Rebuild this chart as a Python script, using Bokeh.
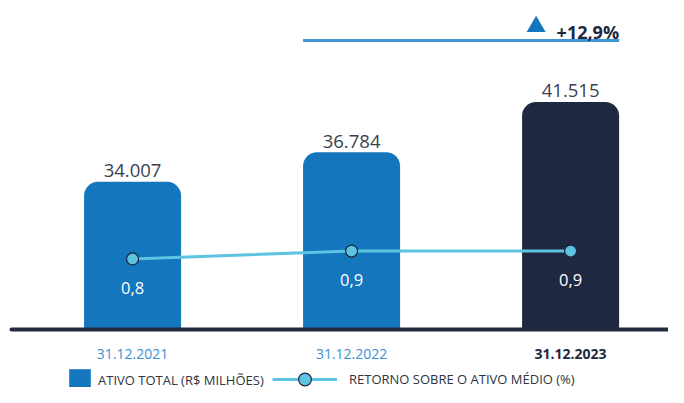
from bokeh.plotting import figure
from bokeh.models import Range1d, Legend, LegendItem, ColumnDataSource
from bokeh.core.properties import value
from bokeh.embed import file_html
from bokeh.resources import INLINE

# ---- data ----
dates = ["31.12.2021", "31.12.2022", "31.12.2023"]
ativo_total = [34007, 36784, 41515]          # R$ milhões
rsa = [0.8, 0.9, 0.9]                         # %
bar_colors = ["#1476bd", "#1476bd", "#1e2840"]
date_colors = ["#3a8fd2", "#3a8fd2", "#1e2840"]
date_styles = ["normal", "normal", "bold"]

# ---- layout constants ----
W, H = 668, 387
X_START, X_END = -0.603, 2.447
Y_START, Y_END = 14684, 51039
RSA_START, RSA_END = -0.828, 4.073
BAR_BASE = 20130
BAR_W = 0.443
ANNOT_Y = 47272
PX_PER_X = W / (X_END - X_START)
PX_PER_Y = H / (Y_END - Y_START)
FONT = "Open Sans"

xs = list(range(len(dates)))
val_labels = [f"{v:,}".replace(",", ".") for v in ativo_total]
rsa_labels = [f"{v:.1f}".replace(".", ",") for v in rsa]
growth = (ativo_total[-1] / ativo_total[-2] - 1) * 100
growth_label = "+" + f"{growth:.1f}".replace(".", ",") + "%"

src = ColumnDataSource(dict(x=xs, top=ativo_total, bottom=[BAR_BASE] * len(xs),
                            color=bar_colors, vlab=val_labels, rsa=rsa, rlab=rsa_labels,
                            date=dates, dcol=date_colors, dsty=date_styles,
                            base=[BAR_BASE] * len(xs)))

p = figure(width=W, height=H, output_backend="svg", toolbar_location=None,
           x_range=Range1d(X_START, X_END), y_range=Range1d(Y_START, Y_END),
           x_axis_location=None, y_axis_location=None, min_border=0)
p.extra_y_ranges = {"rsa": Range1d(RSA_START, RSA_END)}
p.grid.visible = False
p.outline_line_color = None
p.background_fill_color = "white"
p.border_fill_color = "white"

bars = p.vbar(x="x", top="top", bottom="bottom", width=BAR_W, source=src,
              fill_color="color", line_color=None, border_radius=(14, 14, 0, 0))

# value labels above bars
p.text(x="x", y="top", text="vlab", source=src, text_align="center",
       text_baseline="alphabetic", y_offset=-11, text_font=value(FONT),
       text_font_size="18.5px", text_color="#3a3f4d")

# RSA line
line_r = p.line(x="x", y="rsa", source=src, y_range_name="rsa",
                line_color="#5cc3e1", line_width=3)
pts_r = p.scatter(x="x", y="rsa", source=src, y_range_name="rsa", size=12,
                  fill_color="#5cc3e1", line_color="#1e2840", line_width=1.2)
p.text(x="x", y="rsa", text="rlab", source=src, y_range_name="rsa",
       text_align="center", text_baseline="alphabetic", y_offset=29,
       text_font=value(FONT), text_font_size="16.5px", text_color="white")

# baseline
p.segment(x0=[X_START + 11 / PX_PER_X], y0=[BAR_BASE], x1=[X_END + 10 / PX_PER_X],
          y1=[BAR_BASE], line_color="#252c40", line_width=4, line_cap="round")

# date labels
p.text(x="x", y="base", text="date", source=src, text_align="center",
       text_baseline="alphabetic", y_offset=24, text_font=value(FONT),
       text_font_size="14px", text_color="dcol", text_font_style="dsty")

# growth annotation
x_left = xs[1] - BAR_W / 2
x_right = xs[2] + BAR_W / 2
p.segment(x0=[x_left], y0=[ANNOT_Y], x1=[x_right], y1=[ANNOT_Y],
          line_color="#3c97d3", line_width=3)
p.scatter(x=[x_right - 83 / PX_PER_X], y=[ANNOT_Y + 14 / PX_PER_Y],
          marker="triangle", size=19, fill_color="#1476bd", line_color=None)
p.text(x=[x_right], y=[ANNOT_Y], text=[growth_label], text_align="right",
       text_baseline="alphabetic", y_offset=-9, text_font=value(FONT),
       text_font_size="18px", text_font_style="bold", text_color="#1e2840")

# legends
leg1 = Legend(items=[LegendItem(label="ATIVO TOTAL (R$ MILHÕES)", renderers=[bars])],
              location=(66, -6), orientation="horizontal",
              glyph_width=27, glyph_height=27, label_standoff=5,
              padding=0, margin=0, spacing=0, border_line_alpha=0,
              background_fill_alpha=0, label_text_font=FONT,
              label_text_font_size="13px", label_text_color="#2e3440")
leg2 = Legend(items=[LegendItem(label="RETORNO SOBRE O ATIVO MÉDIO (%)", renderers=[line_r, pts_r])],
              location=(272, -8), orientation="horizontal",
              glyph_width=65, glyph_height=32, label_standoff=12,
              padding=0, margin=0, spacing=0, border_line_alpha=0,
              background_fill_alpha=0, label_text_font=FONT,
              label_text_font_size="13px", label_text_color="#2e3440")
p.add_layout(leg1)
p.add_layout(leg2)

open("out.html", "w").write(file_html(p, INLINE))
